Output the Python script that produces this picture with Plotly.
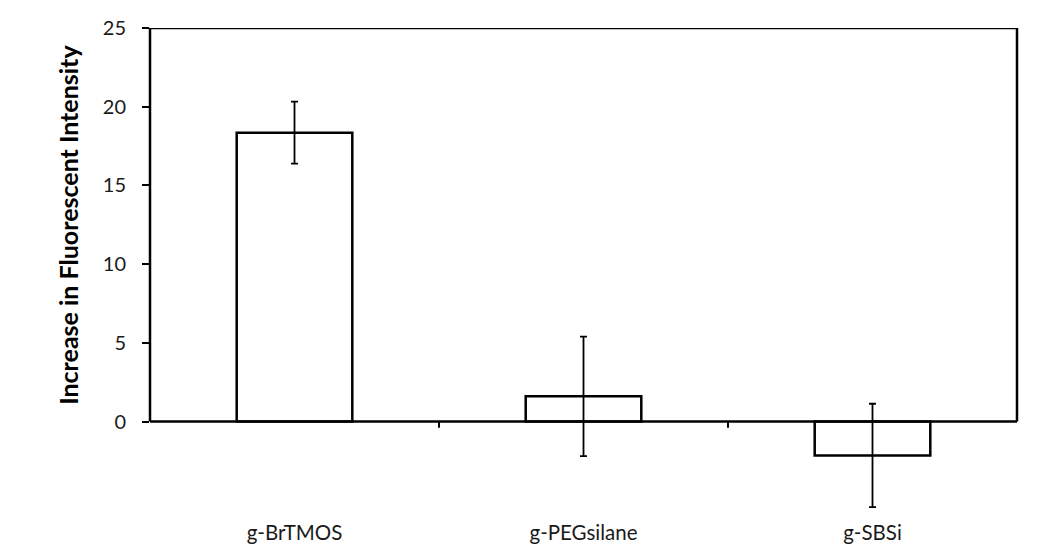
import plotly.graph_objects as go

categories = ["g-BrTMOS", "g-PEGsilane", "g-SBSi"]
values = [18.35, 1.6, -2.15]
errors = [1.97, 3.8, 3.28]
y_ticks = [0, 5, 10, 15, 20, 25]

FONT = "Lato"
LW = 2.5

fig = go.Figure()
fig.add_trace(go.Bar(
    x=categories, y=values,
    marker=dict(color="white", line=dict(color="black", width=LW)),
    error_y=dict(type="data", array=errors, visible=True, color="black",
                 thickness=1.8, width=3.5),
    width=0.4,
))

ymin = -6.0
fig.update_layout(
    width=1062, height=544,
    margin=dict(l=150, r=45, t=28, b=28),
    paper_bgcolor="white", plot_bgcolor="white",
    showlegend=False,
    font=dict(family=FONT, color="#1a1a1a", size=20),
    xaxis=dict(showline=False, showgrid=False, zeroline=False, ticks="",
               tickfont=dict(size=20.5, family=FONT), fixedrange=True,
               ticklabelstandoff=2, automargin=False),
    yaxis=dict(range=[ymin, 25], tickvals=y_ticks, showline=False, showgrid=False,
               zeroline=False, ticks="outside", ticklen=7, tickwidth=2,
               tickcolor="black", tickfont=dict(size=20, family=FONT),
               ticklabelstandoff=12, automargin=False),
)

# frame lines
shapes = [
    dict(type="line", xref="paper", yref="y", x0=0, x1=1, y0=0, y1=0,
         line=dict(color="black", width=LW)),
    dict(type="line", xref="paper", yref="y", x0=0, x1=1, y0=25, y1=25,
         line=dict(color="black", width=LW)),
    dict(type="line", xref="paper", yref="y", x0=0, x1=0, y0=0, y1=25,
         line=dict(color="black", width=LW)),
    dict(type="line", xref="paper", yref="y", x0=1, x1=1, y0=0, y1=25,
         line=dict(color="black", width=LW)),
]
for i in range(1, len(categories)):
    shapes.append(dict(type="line", xref="x", yref="y", x0=i - 0.5, x1=i - 0.5,
                       y0=0, y1=-0.4, line=dict(color="black", width=2)))
fig.update_layout(shapes=shapes)

fig.add_annotation(
    text="<b>Increase in Fluorescent Intensity</b>", textangle=-90,
    xref="paper", yref="y", x=0, y=12.5, xshift=-82, xanchor="center",
    yanchor="middle", showarrow=False,
    font=dict(size=25, family=FONT, color="black"),
)

fig.write_html("out.html")
